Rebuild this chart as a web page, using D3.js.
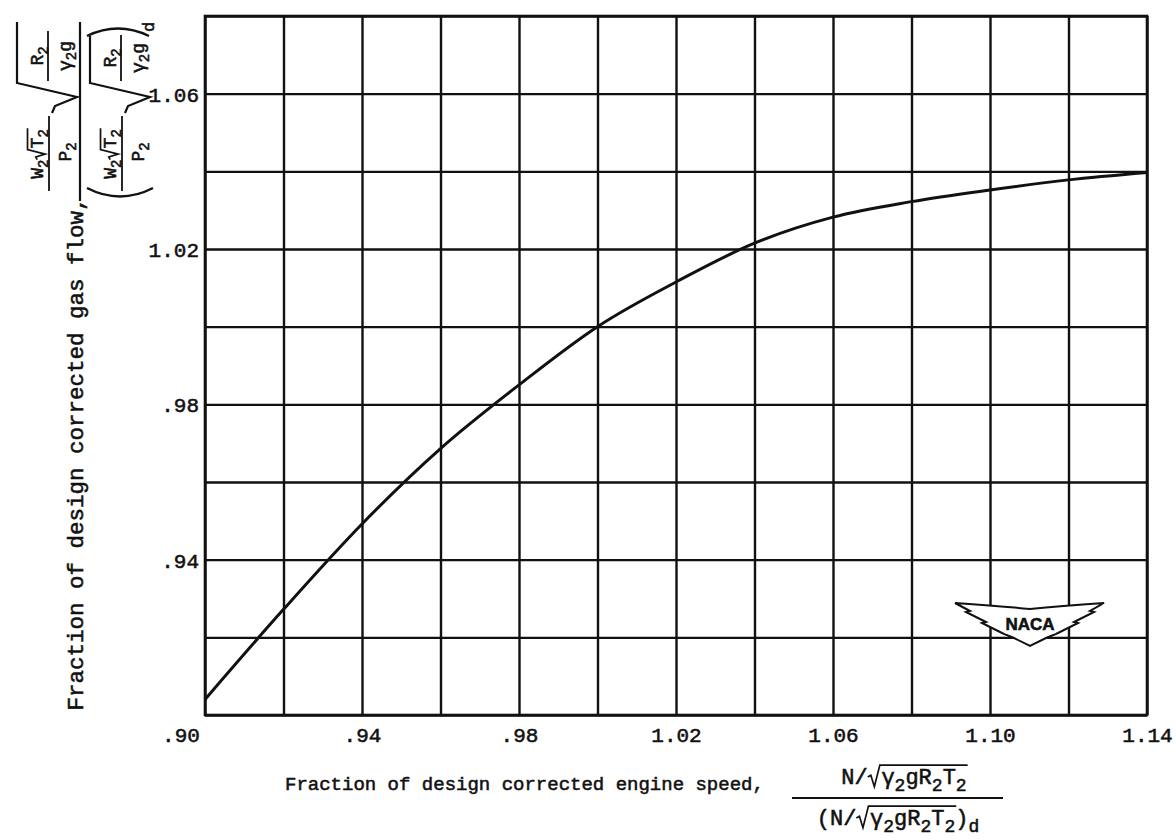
<!DOCTYPE html>
<html><head><meta charset="utf-8">
<script src="https://cdn.jsdelivr.net/npm/d3@7"></script>
<style>
html,body{margin:0;padding:0;background:#fff;}
svg{display:block;}
text{font-family:"Liberation Mono","DejaVu Sans Mono",monospace;fill:#111;stroke:#111;stroke-width:0.55px;}
</style></head><body>
<svg id="c" width="1176" height="840"></svg>
<script>
// ---- data ----
const speed = [0.90, 0.92, 0.94, 0.96, 0.98, 1.00, 1.02, 1.04, 1.06, 1.08, 1.10, 1.12, 1.14];
const flow  = [0.904, 0.9272, 0.9492, 0.9686, 0.985, 1.000, 1.0115, 1.0215, 1.0282, 1.0322, 1.0352, 1.0378, 1.0397];
const xGrid = [0.90, 0.92, 0.94, 0.96, 0.98, 1.00, 1.02, 1.04, 1.06, 1.08, 1.10, 1.12, 1.14];
const yGrid = [0.90, 0.92, 0.94, 0.96, 0.98, 1.00, 1.02, 1.04, 1.06, 1.08];
const xTickValues = [0.94, 0.98, 1.02, 1.06, 1.10, 1.14];
const xTickLabels = [".94", ".98", "1.02", "1.06", "1.10", "1.14"];
const yTickValues = [0.94, 0.98, 1.02, 1.06];
const yTickLabels = [".94", ".98", "1.02", "1.06"];
const cornerLabel = ".90";
const xTitle = "Fraction of design corrected engine speed,";
const yTitle = "Fraction of design corrected gas flow,";

const ink = "#111";
const svg = d3.select("#c");
const x = d3.scaleLinear().domain([0.90, 1.14]).range([205, 1147]);
const y = d3.scaleLinear().domain([0.90, 1.08]).range([715, 16]);
const plotH = y(0.90) - y(1.08);
const plotW = x(1.14) - x(0.90);

// ---- grid ----
svg.append("g").attr("transform", `translate(0,${y(0.90)})`)
  .call(d3.axisBottom(x).tickValues(xGrid).tickSize(-plotH).tickFormat(""))
  .call(g => g.select(".domain").remove())
  .call(g => g.selectAll("line").attr("stroke", ink).attr("stroke-width", 2.4));
svg.append("g").attr("transform", `translate(${x(0.90)},0)`)
  .call(d3.axisLeft(y).tickValues(yGrid).tickSize(-plotW).tickFormat(""))
  .call(g => g.select(".domain").remove())
  .call(g => g.selectAll("line").attr("stroke", ink).attr("stroke-width", 2.4));
svg.append("rect").attr("x", x(0.90)).attr("y", y(1.08)).attr("width", plotW).attr("height", plotH)
  .attr("fill", "none").attr("stroke", ink).attr("stroke-width", 2.6);

// ---- tick labels ----
svg.append("g").attr("transform", `translate(0,${y(0.90)})`)
  .call(d3.axisBottom(x).tickValues(xTickValues).tickSize(0).tickPadding(0)
        .tickFormat((d, i) => xTickLabels[i]))
  .call(g => g.select(".domain").remove())
  .call(g => g.selectAll("text").attr("y", 27).attr("dy", 0)
        .style("font-family", '"Liberation Mono",monospace').style("font-size", "21px")
        .attr("fill", ink).attr("stroke", ink).attr("stroke-width", 0.55));
svg.append("g").attr("transform", `translate(${x(0.90)},0)`)
  .call(d3.axisLeft(y).tickValues(yTickValues).tickSize(0).tickPadding(6)
        .tickFormat((d, i) => yTickLabels[i]))
  .call(g => g.select(".domain").remove())
  .call(g => g.selectAll("text").attr("dy", "0.36em")
        .style("font-family", '"Liberation Mono",monospace').style("font-size", "21px")
        .attr("fill", ink).attr("stroke", ink).attr("stroke-width", 0.55));
svg.append("text").attr("x", x(0.90) - 24).attr("y", y(0.90) + 27).attr("text-anchor", "middle")
  .style("font-size", "21px").text(cornerLabel);

// ---- curve ----
const pts = speed.map((s, i) => [s, flow[i]]);
svg.append("path").datum(pts)
  .attr("d", d3.line().x(d => x(d[0])).y(d => y(d[1])).curve(d3.curveMonotoneX))
  .attr("fill", "none").attr("stroke", ink).attr("stroke-width", 3);

// ---- helpers for formula text ----
function rich(g, lx, ly, parts, size, anchor) {
  const t = g.append("text").attr("x", lx).attr("y", ly)
    .attr("text-anchor", anchor || "middle").style("font-size", size + "px");
  let shifted = 0;
  parts.forEach(p => {
    const sp = t.append("tspan").text(p.t);
    const want = p.sub ? Math.round(size * 0.3) : 0;
    sp.attr("dy", want - shifted); shifted = want;
    if (p.sub) sp.style("font-size", Math.round(size * 0.8) + "px");
  });
  return t;
}
function line(g, x1, y1, x2, y2, w) {
  g.append("line").attr("x1", x1).attr("y1", y1).attr("x2", x2).attr("y2", y2)
    .attr("stroke", ink).attr("stroke-width", w || 1.8);
}
// segments laid out left to right, centred on cx; rad:true draws a radical over the segment
function formula(g, cx, base, segs, size) {
  const pieces = []; let total = 0;
  segs.forEach(s => {
    const t = rich(g, 0, base, s.parts, size, "start");
    const w = t.node().getComputedTextLength();
    const pad = s.rad ? size * 0.62 : 0;
    pieces.push({ t, w, pad, rad: s.rad }); total += w + pad;
  });
  let cur = cx - total / 2;
  pieces.forEach(p => {
    if (p.rad) {
      const r = cur, top = base - size * 0.86;
      g.append("path").attr("d",
        `M${r},${base - size * 0.32} L${r + size * 0.14},${base - size * 0.4} L${r + size * 0.3},${base + size * 0.12} L${r + size * 0.55},${top} L${r + p.pad + p.w + 1},${top}`)
        .attr("fill", "none").attr("stroke", ink).attr("stroke-width", 1.7);
    }
    p.t.attr("x", cur + p.pad);
    cur += p.pad + p.w;
  });
}

// ---- x axis title ----
svg.append("text").attr("x", 285).attr("y", 790).style("font-size", "19px").text(xTitle);
const gx = svg.append("g");
const radX = [{t:"γ"},{t:"2",sub:true},{t:"gR"},{t:"2",sub:true},{t:"T"},{t:"2",sub:true}];
formula(gx, 904, 784, [{parts:[{t:"N/"}]}, {rad:true, parts:radX}], 22);
line(gx, 792, 798, 1003, 798, 2);
formula(gx, 898, 825, [{parts:[{t:"(N/"}]}, {rad:true, parts:radX}, {parts:[{t:")"},{t:"d",sub:true}]}], 22);

// ---- y axis title (rotated) ----
svg.append("text").attr("transform", "translate(83,454) rotate(-90)")
  .attr("text-anchor", "middle").style("font-size", "22.5px").text(yTitle);
const gy = svg.append("g").attr("transform", "rotate(-90)");
const fs = 18;
const wPart = [{parts:[{t:"W"},{t:"2",sub:true}]}, {rad:true, parts:[{t:"T"},{t:"2",sub:true}]}];
// numerator
formula(gy, -154, 43, wPart, fs);
line(gy, -191, 49, -116, 49);
rich(gy, -152, 71, [{t:"P"},{t:"2",sub:true}], fs);
gy.append("path").attr("d", "M-113,52 L-106,55 L-97,77 L-83,17 L-22,17")
  .attr("fill", "none").attr("stroke", ink).attr("stroke-width", 2.2);
rich(gy, -56, 43, [{t:"R"},{t:"2",sub:true}], fs);
line(gy, -81, 48, -31, 48);
rich(gy, -56, 71, [{t:"γ"},{t:"2",sub:true},{t:"g"}], fs);
// main bar
line(gy, -201, 80, -22, 80, 2.2);
// denominator
gy.append("path").attr("d", "M-188,87 Q-205,120 -188,153").attr("fill", "none").attr("stroke", ink).attr("stroke-width", 2.4);
formula(gy, -154, 116, wPart, fs);
line(gy, -191, 122, -116, 122);
rich(gy, -152, 144, [{t:"P"},{t:"2",sub:true}], fs);
gy.append("path").attr("d", "M-113,125 L-106,128 L-97,150 L-83,90 L-36,90")
  .attr("fill", "none").attr("stroke", ink).attr("stroke-width", 2.2);
rich(gy, -58, 116, [{t:"R"},{t:"2",sub:true}], fs);
line(gy, -81, 121, -35, 121);
rich(gy, -58, 144, [{t:"γ"},{t:"2",sub:true},{t:"g"}], fs);
gy.append("path").attr("d", "M-36,87 Q-21,118 -36,149").attr("fill", "none").attr("stroke", ink).attr("stroke-width", 2.4);
gy.append("text").attr("x", -32).attr("y", 154).style("font-size", "17px").text("d");

// ---- NACA logo ----
const logo = svg.append("g");
logo.append("path")
  .attr("d", "M955,603 Q1000,606 1030,609 Q1060,606 1104,603 L1090,611 L1094,612 L1074,622 L1078,623 L1058,633 L1046,638 L1030,646 L1014,638 L1002,633 L982,623 L986,622 L966,612 L970,611 Z")
  .attr("fill", "#fff").attr("stroke", ink).attr("stroke-width", 2);
logo.append("path").attr("d", "M1004,611 L1056,611 L1056,633 L1030,641 L1004,633 Z")
  .attr("fill", "#fff").attr("stroke", "none");
logo.append("text").attr("x", 1030).attr("y", 630).attr("text-anchor", "middle")
  .style("font-family", '"Liberation Sans",Arial,sans-serif').style("font-weight", "bold")
  .style("font-size", "17px").attr("stroke-width", 0.3).text("NACA");
</script>
</body></html>
